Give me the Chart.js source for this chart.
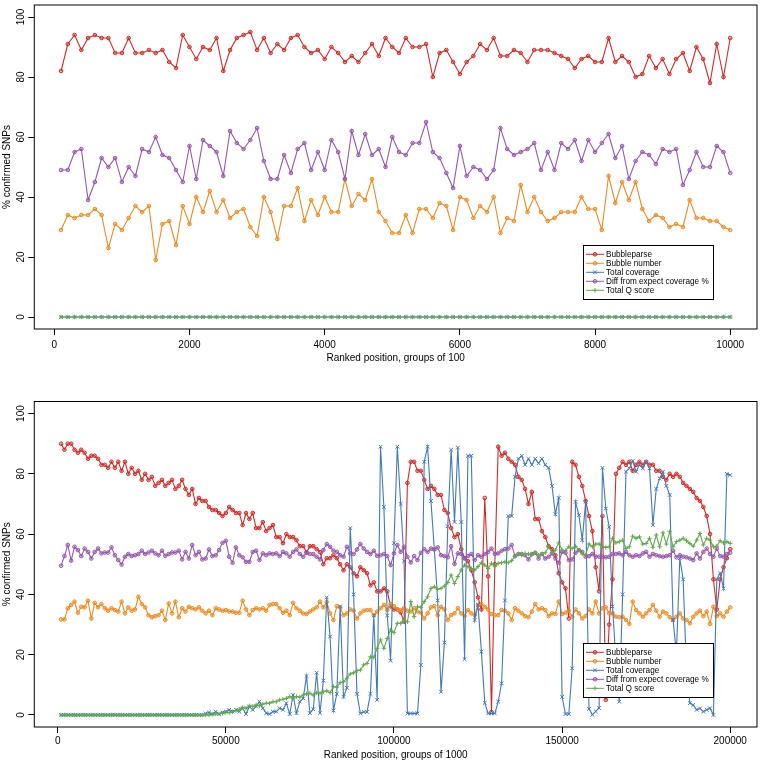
<!DOCTYPE html>
<html>
<head>
<meta charset="utf-8">
<script src="https://cdn.jsdelivr.net/npm/chart.js@4.4.1/dist/chart.umd.min.js"></script>
<style>
  body { margin: 0; background: #fff; }
  #wrap { position: relative; width: 762px; height: 764px; background: #fff; }
  canvas { position: absolute; left: 0; }
  #topChart { top: 0; }
  #bottomChart { top: 370px; }
</style>
</head>
<body>
<div id="wrap">
  <canvas id="topChart" width="762" height="370" style="width:762px;height:370px"></canvas>
  <canvas id="bottomChart" width="762" height="394" style="width:762px;height:394px"></canvas>
</div>
<script>
// ---- data ----
const seriesNames = ["Bubbleparse", "Bubble number", "Total coverage", "Diff from expect coverage %", "Total Q score"];
const yTicks = [0, 20, 40, 60, 80, 100];
const topXTicks = [0, 2000, 4000, 6000, 8000, 10000];
const bottomXTicks = [0, 50000, 100000, 150000, 200000];
const topGroup = 100;
const bottomGroup = 1000;

// top panel: groups of 100
const topBubbleparse = [
  82, 91, 94, 89, 93, 94, 93, 93, 88, 88,
  93, 88, 88, 89, 88, 89, 85, 83, 94, 90,
  86, 90, 89, 93, 82, 89, 93, 94, 95, 89,
  93, 88, 91, 89, 93, 94, 90, 88, 89, 86,
  90, 88, 85, 87, 85, 88, 91, 87, 93, 90,
  88, 93, 90, 90, 91, 80, 88, 89, 85, 81,
  85, 87, 91, 89, 93, 87, 87, 89, 88, 85,
  89, 89, 89, 88, 87, 86, 83, 86, 87, 85,
  85, 93, 85, 87, 85, 80, 81, 87, 83, 86,
  81, 86, 88, 82, 90, 86, 78, 91, 80, 93
];
const topBubbleNumber = [
  29, 34, 33, 34, 34, 36, 34, 23, 31, 29,
  33, 37, 35, 37, 19, 31, 32, 24, 37, 31,
  40, 35, 42, 35, 39, 33, 35, 36, 30, 27,
  40, 35, 26, 37, 37, 43, 32, 39, 34, 40,
  35, 35, 46, 37, 41, 39, 46, 35, 32, 28,
  28, 34, 28, 36, 36, 33, 38, 37, 29, 40,
  39, 33, 37, 35, 40, 28, 33, 32, 44, 35,
  40, 35, 32, 33, 35, 35, 35, 40, 36, 36,
  29, 47, 38, 45, 39, 45, 36, 32, 34, 33,
  30, 31, 30, 39, 33, 33, 32, 32, 30, 29
];
const topTotalCoverage = [
  0, 0, 0, 0, 0, 0, 0, 0, 0, 0,
  0, 0, 0, 0, 0, 0, 0, 0, 0, 0,
  0, 0, 0, 0, 0, 0, 0, 0, 0, 0,
  0, 0, 0, 0, 0, 0, 0, 0, 0, 0,
  0, 0, 0, 0, 0, 0, 0, 0, 0, 0,
  0, 0, 0, 0, 0, 0, 0, 0, 0, 0,
  0, 0, 0, 0, 0, 0, 0, 0, 0, 0,
  0, 0, 0, 0, 0, 0, 0, 0, 0, 0,
  0, 0, 0, 0, 0, 0, 0, 0, 0, 0,
  0, 0, 0, 0, 0, 0, 0, 0, 0, 0
];
const topDiffExpect = [
  49, 49, 55, 56, 39, 45, 53, 50, 53, 45,
  50, 47, 56, 55, 60, 54, 53, 49, 45, 57,
  46, 59, 57, 55, 47, 62, 58, 56, 59, 63,
  52, 46, 46, 54, 48, 56, 58, 49, 55, 49,
  59, 55, 46, 62, 54, 61, 54, 56, 50, 60,
  55, 54, 58, 58, 65, 55, 53, 48, 43, 57,
  47, 50, 49, 46, 49, 63, 56, 54, 55, 56,
  58, 49, 55, 49, 58, 56, 59, 52, 59, 55,
  58, 61, 53, 57, 46, 52, 55, 54, 51, 56,
  55, 56, 44, 49, 55, 50, 50, 57, 55, 48
];
const topTotalQ = [
  0, 0, 0, 0, 0, 0, 0, 0, 0, 0,
  0, 0, 0, 0, 0, 0, 0, 0, 0, 0,
  0, 0, 0, 0, 0, 0, 0, 0, 0, 0,
  0, 0, 0, 0, 0, 0, 0, 0, 0, 0,
  0, 0, 0, 0, 0, 0, 0, 0, 0, 0,
  0, 0, 0, 0, 0, 0, 0, 0, 0, 0,
  0, 0, 0, 0, 0, 0, 0, 0, 0, 0,
  0, 0, 0, 0, 0, 0, 0, 0, 0, 0,
  0, 0, 0, 0, 0, 0, 0, 0, 0, 0,
  0, 0, 0, 0, 0, 0, 0, 0, 0, 0
];

// bottom panel: groups of 1000
const bottomBubbleparse = [
  90, 88, 90, 90, 88, 87, 88, 87, 85, 86,
  86, 85, 83, 83, 82, 84, 82, 84, 81, 84,
  80, 82, 80, 81, 78, 80, 78, 79, 76, 77,
  78, 76, 77, 78, 75, 76, 78, 75, 73, 75,
  70, 72, 71, 71, 69, 68, 68, 67, 66, 67,
  69, 68, 67, 67, 63, 67, 65, 67, 62, 62,
  64, 61, 62, 63, 59, 59, 57, 60, 59, 59,
  58, 56, 56, 54, 56, 56, 55, 54, 50, 52,
  52, 53, 52, 50, 48, 50, 49, 47, 46, 49,
  48, 47, 43, 44, 41, 41, 42, 41, 36, 35,
  35, 34, 31, 77, 84, 84, 81, 81, 78, 75,
  76, 75, 73, 73, 68, 67, 62, 59, 60, 55,
  52, 51, 48, 44, 39, 35, 72, 46, 1, 50,
  89, 86, 87, 85, 84, 83, 79, 78, 75, 70,
  74, 65, 65, 61, 59, 56, 55, 53, 47, 44,
  42, 32, 84, 83, 79, 76, 71, 66, 61, 49,
  41, 66, 5, 30, 45, 80, 82, 84, 83, 84,
  81, 83, 84, 83, 84, 83, 83, 81, 81, 79,
  78, 80, 79, 80, 79, 77, 76, 75, 74, 72,
  71, 69, 66, 60, 45, 35, 45, 49, 52, 55
];
const bottomBubbleNumber = [
  31.7, 31.7, 35.4, 36.5, 37.6, 33.9, 35.9, 35.7, 37.9, 32.0,
  37.2, 35.7, 36.8, 35.4, 34.6, 35.4, 34.8, 34.3, 37.6, 33.7,
  35.7, 34.6, 35.0, 39.2, 36.8, 35.7, 33.1, 32.4, 32.8, 33.1,
  34.6, 31.5, 37.0, 33.7, 37.6, 32.4, 35.4, 34.3, 35.9, 35.4,
  35.0, 35.7, 34.6, 33.7, 34.6, 33.1, 35.4, 35.0, 34.6, 34.8,
  34.3, 34.3, 33.9, 33.9, 37.9, 35.0, 33.1, 34.8, 35.4, 35.0,
  35.4, 34.6, 36.5, 36.8, 36.8, 35.4, 33.9, 34.6, 33.1, 37.2,
  35.4, 34.6, 33.7, 33.5, 34.3, 35.0, 35.7, 37.6, 35.7, 37.5,
  33.7, 31.5, 36.1, 35.7, 33.1, 33.7, 35.0, 34.6, 32.0, 33.7,
  34.6, 34.8, 34.8, 33.1, 34.3, 35.4, 36.5, 34.8, 36.8, 36.1,
  35.0, 34.8, 35.4, 34.6, 34.3, 35.4, 34.3, 33.9, 32.0, 33.7,
  35.7, 36.1, 33.1, 35.9, 35.0, 31.5, 33.1, 33.7, 35.4, 33.7,
  32.8, 34.8, 33.7, 33.1, 36.5, 36.8, 35.9, 35.0, 33.5, 33.1,
  33.1, 34.8, 34.6, 33.7, 31.5, 35.4, 34.6, 33.7, 32.8, 32.4,
  34.3, 36.8, 35.0, 35.4, 34.8, 32.8, 33.7, 33.5, 37.6, 33.5,
  33.9, 34.6, 32.6, 35.0, 33.7, 32.0, 32.8, 35.0, 33.7, 37.6,
  33.7, 35.4, 35.7, 33.7, 33.7, 32.6, 32.4, 32.6, 31.5, 30.2,
  37.6, 34.8, 33.7, 32.6, 33.7, 34.8, 36.5, 34.6, 32.6, 34.3,
  33.7, 32.4, 31.5, 32.6, 33.7, 32.0, 31.5, 30.4, 32.6, 33.7,
  34.6, 32.8, 34.3, 30.2, 35.9, 32.8, 33.7, 32.6, 34.3, 35.7
];
const bottomTotalCoverage = [
  0, 0, 0, 0, 0, 0, 0, 0, 0, 0,
  0, 0, 0, 0, 0, 0, 0, 0, 0, 0,
  0, 0, 0, 0, 0, 0, 0, 0, 0, 0,
  0, 0, 0, 0, 0, 0, 0, 0, 0, 0,
  0, 0, 0, 0.5, 0.8, 0.3, 1.1, 0.3, 0.8, 1.1,
  1.7, 1.1, 1.7, 1.1, 2.2, 0.3, 2.8, 1.7, 2.8, 4.4,
  2.2, 0.6, 0.3, 1.1, 1.1, 2.2, 1.7, 3.9, 0.3, 6.6,
  0.6, 4.4, 5.5, 12.9, 0.6, 1.9, 14.0, 0.6, 11.4, 39,
  26, 1.5, 7, 36, 6, 9, 62, 40, 7, 0.5,
  1, 1, 7, 33, 5, 89, 69, 33, 18, 57,
  89, 70, 51, 0.5, 0.5, 0.5, 0.5, 16.6, 84, 89,
  71, 55, 38, 7.7, 24, 62.6, 88, 64, 88.7, 64,
  18.5, 86, 86, 31.5, 36.5, 21, 4, 0.5, 0.5, 0.5,
  4.4, 10.5, 38, 66, 66, 79, 85, 86, 83, 85,
  83, 85, 83.5, 85, 83, 82, 76, 66.6, 72, 6,
  0.3, 0.3, 15.5, 70.7, 66.3, 58, 70.7, 2, 0.1, 1.2,
  2.3, 82, 68.5, 62.4, 36, 18, 4.4, 40, 80.7, 81.8,
  84.3, 80.7, 83, 81.8, 84, 81.8, 63, 75, 78.5, 80.7,
  76, 73, 31.5, 20.4, 52, 45, 15, 3.9, 3.3, 1.7,
  2.2, 1.1, 1.7, 2.2, 0, 45, 47, 42, 80, 79.6
];
const bottomDiffExpect = [
  49.5, 52.7, 56.4, 51.2, 55.8, 54.7, 52.7, 55.2, 54.1, 51.9,
  54.1, 55.2, 53.6, 53.9, 53.9, 55.6, 53.0, 51.4, 49.9, 52.5,
  53.4, 52.7, 53.0, 53.4, 54.5, 53.4, 53.9, 54.5, 53.6, 53.0,
  54.5, 52.8, 53.4, 53.9, 53.9, 54.5, 51.6, 54.1, 51.9, 56.4,
  53.0, 54.1, 51.6, 51.9, 54.9, 52.7, 53.0, 54.7, 57.1, 57.8,
  52.5, 50.5, 55.6, 53.0, 52.3, 50.8, 50.8, 54.1, 54.5, 51.4,
  53.6, 53.0, 53.6, 53.4, 53.6, 52.7, 54.1, 53.6, 52.5, 54.1,
  54.9, 53.4, 52.5, 53.8, 53.4, 53.4, 52.5, 51.6, 54.7, 56.7,
  55.8, 54.5, 54.1, 53.0, 52.5, 55.8, 53.6, 53.4, 54.9, 56.7,
  55.2, 54.1, 53.4, 54.5, 52.8, 53.0, 53.4, 52.7, 49.7, 53.6,
  56.4, 54.1, 55.8, 52.5, 50.6, 52.7, 51.4, 53.8, 55.0, 54.1,
  55.2, 54.9, 55.6, 53.0, 52.7, 52.3, 56.0, 50.1, 53.6, 53.4,
  51.9, 52.7, 53.4, 51.4, 53.0, 52.5, 53.4, 54.1, 55.2, 53.4,
  53.6, 54.5, 55.0, 55.2, 56.4, 52.7, 53.4, 53.4, 53.0, 51.6,
  53.4, 53.8, 51.9, 53.4, 51.9, 52.5, 53.6, 51.9, 50.5, 54.1,
  53.8, 51.4, 51.6, 53.8, 54.7, 54.1, 52.5, 52.7, 53.4, 52.5,
  52.5, 52.5, 52.3, 52.5, 53.4, 53.4, 53.6, 53.0, 54.1, 53.0,
  52.5, 53.0, 52.7, 53.6, 54.1, 52.5, 53.4, 53.0, 52.7, 52.5,
  52.7, 53.0, 54.5, 52.3, 53.0, 52.5, 52.3, 51.9, 51.4, 53.6,
  51.9, 54.1, 55.2, 53.4, 52.5, 55.2, 52.7, 52.5, 53.4, 53.8
];
const bottomTotalQ = [
  0, 0, 0, 0, 0, 0, 0, 0, 0, 0,
  0, 0, 0, 0, 0, 0, 0, 0, 0, 0,
  0, 0, 0, 0, 0, 0, 0, 0, 0, 0,
  0, 0, 0, 0, 0, 0, 0, 0, 0, 0,
  0, 0, 0, 0, 0, 0.2, 0.3, 0.4, 0.5, 0.8,
  0.8, 1.1, 1.4, 1.9, 2.5, 2.2, 3.0, 2.8, 3.3, 3.0,
  3.6, 3.9, 3.9, 4.4, 4.4, 5.0, 5.2, 5.5, 6.1, 5.5,
  6.1, 5.9, 6.6, 7.0, 7.2, 6.6, 7.4, 7.2, 7.7, 8.0,
  7.4, 9.4, 9.2, 10.7, 11.0, 12.2, 13.6, 14.0, 14.7, 14.9,
  16.6, 17.1, 19.3, 19.1, 22.1, 24.9, 22.1, 25.4, 28.2, 27.3,
  30.4, 30.4, 31.5, 30.9, 37.6, 32.6, 35.9, 35.7, 37.6, 39.2,
  42.0, 42.5, 41.7, 42.0, 42.8, 43.9, 46.4, 43.6, 45.9, 48.1,
  49.7, 49.2, 48.6, 48.1, 49.2, 50.5, 49.7, 48.6, 50.3, 49.2,
  50.3, 50.5, 50.8, 50.5, 51.2, 52.7, 53.4, 53.0, 53.6, 53.4,
  53.0, 53.8, 53.0, 53.4, 53.8, 55.8, 53.8, 54.7, 57.1, 54.7,
  54.5, 55.8, 55.2, 56.0, 54.7, 53.4, 53.0, 56.7, 55.8, 56.7,
  56.7, 55.8, 55.6, 55.8, 58.6, 57.1, 57.5, 58.0, 55.2, 55.8,
  59.3, 58.6, 59.1, 56.7, 56.9, 58.6, 55.6, 59.7, 55.8, 60.4,
  56.7, 60.8, 55.8, 57.5, 58.0, 58.6, 57.8, 56.9, 56.0, 58.0,
  60.2, 56.4, 58.6, 58.0, 55.8, 56.0, 57.8, 57.1, 57.5, 56.9
];

// ---- styles ----
const lineColors = ["#d12b27", "#ee8a1f", "#4279b8", "#9557ae", "#62a84c"];
const fillColors = ["rgba(209,43,39,0.35)", "rgba(238,138,31,0.35)", "#4279b8", "rgba(149,87,174,0.35)", "#62a84c"];
const markers = ["circle", "circle", "crossRot", "circle", "cross"];
const markerSize = [1.8, 1.8, 2.6, 1.8, 2.2];
const fontName = "'Liberation Sans', Arial, sans-serif";

function toPoints(values, group) {
  return values.map((v, i) => ({ x: (i + 1) * group, y: v }));
}

// draws the R style box, rotated y labels and the boxed legend
const rStyle = {
  id: "rStyle",
  afterDatasetsDraw(chart) {
    const { ctx, chartArea } = chart;
    const yScale = chart.scales.y;
    ctx.save();
    ctx.strokeStyle = "#000";
    ctx.lineWidth = 1;
    ctx.strokeRect(chartArea.left, chartArea.top, chartArea.right - chartArea.left, chartArea.bottom - chartArea.top);

    ctx.fillStyle = "#000";
    ctx.font = "10px " + fontName;
    ctx.textAlign = "center";
    ctx.textBaseline = "middle";
    yTicks.forEach((t) => {
      ctx.save();
      ctx.translate(chartArea.left - 12.6, yScale.getPixelForValue(t));
      ctx.rotate(-Math.PI / 2);
      ctx.fillText(String(t), 0, 0);
      ctx.restore();
    });

    // legend
    const w = 130, h = 54;
    const x0 = Math.round(chartArea.right - 44 - w);
    const y0 = Math.round(chartArea.bottom - 30 - h);
    ctx.fillStyle = "#fff";
    ctx.fillRect(x0, y0, w, h);
    ctx.strokeStyle = "#000";
    ctx.strokeRect(x0 + 0.5, y0 + 0.5, w, h);
    ctx.font = "8.2px " + fontName;
    ctx.textAlign = "left";
    seriesNames.forEach((name, i) => {
      const y = y0 + 9.3 + i * 9;
      ctx.strokeStyle = lineColors[i];
      ctx.lineWidth = 1;
      ctx.beginPath();
      ctx.moveTo(x0 + 3, y);
      ctx.lineTo(x0 + 21, y);
      ctx.stroke();
      ctx.fillStyle = fillColors[i];
      Chart.helpers.drawPoint(ctx, { pointStyle: markers[i], radius: markerSize[i], rotation: 0, borderWidth: 1 }, x0 + 12, y);
      ctx.fillStyle = "#000";
      ctx.fillText(name, x0 + 23, y + 0.5);
    });
    ctx.restore();
  }
};

function makeChart(canvasId, seriesList, group, xTicks, xMin, xMax, xTitle, opts) {
  const datasets = seriesList.map((values, i) => ({
    label: seriesNames[i],
    data: toPoints(values, group),
    borderColor: lineColors[i],
    backgroundColor: fillColors[i],
    borderWidth: 1.1,
    pointStyle: markers[i],
    pointRadius: markerSize[i],
    pointBorderWidth: 1,
    pointBorderColor: lineColors[i],
    pointBackgroundColor: fillColors[i],
    tension: 0,
    order: 5 - i
  }));

  return new Chart(document.getElementById(canvasId), {
    type: "line",
    data: { datasets: datasets },
    options: {
      responsive: false,
      animation: false,
      devicePixelRatio: 1,
      layout: { padding: { left: 0, right: opts.right, top: opts.top, bottom: 0 } },
      plugins: { legend: { display: false }, tooltip: { enabled: false } },
      scales: {
        x: {
          type: "linear",
          min: xMin,
          max: xMax,
          afterBuildTicks: (scale) => { scale.ticks = xTicks.map((v) => ({ value: v })); },
          afterFit: (scale) => { scale.height = opts.xHeight; },
          grid: { drawOnChartArea: false, drawTicks: true, tickLength: 6, color: "#000", lineWidth: 1 },
          border: { display: false },
          ticks: {
            color: "#000",
            font: { family: fontName, size: 10 },
            padding: opts.tickPad,
            maxRotation: 0,
            callback: (v) => String(v)
          },
          title: {
            display: true,
            text: xTitle,
            color: "#000",
            font: { family: fontName, size: 10 },
            padding: { top: 0, bottom: opts.titlePad }
          }
        },
        y: {
          type: "linear",
          min: -4,
          max: 104,
          afterBuildTicks: (scale) => { scale.ticks = yTicks.map((v) => ({ value: v })); },
          afterFit: (scale) => { scale.width = 34.3; },
          grid: { drawOnChartArea: false, drawTicks: true, tickLength: 6, color: "#000", lineWidth: 1 },
          border: { display: false },
          ticks: { display: false },
          title: {
            display: true,
            text: "% confirmed SNPs",
            color: "#000",
            font: { family: fontName, size: 10 },
            padding: { top: 1.3, bottom: 0 }
          }
        }
      }
    },
    plugins: [rStyle]
  });
}

makeChart("topChart",
  [topBubbleparse, topBubbleNumber, topTotalCoverage, topDiffExpect, topTotalQ],
  topGroup, topXTicks, -296, 10396, "Ranked position, groups of 100",
  { top: 5, right: 4.5, xHeight: 41, tickPad: 4, titlePad: 6 });

makeChart("bottomChart",
  [bottomBubbleparse, bottomBubbleNumber, bottomTotalCoverage, bottomDiffExpect, bottomTotalQ],
  bottomGroup, bottomXTicks, -6960, 207960, "Ranked position, groups of 1000",
  { top: 31.5, right: 4.3, xHeight: 37, tickPad: 2, titlePad: 3 });
</script>
</body>
</html>
